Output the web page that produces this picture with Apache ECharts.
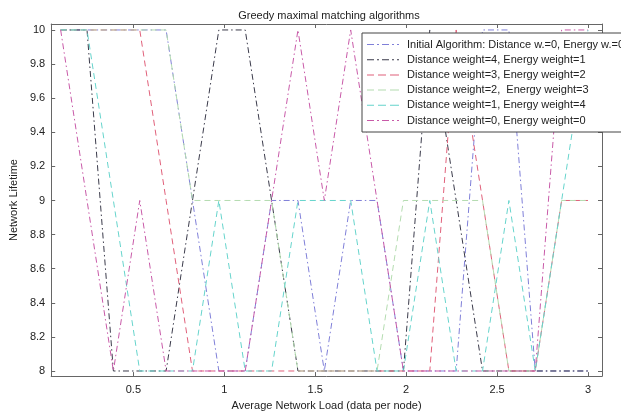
<!DOCTYPE html>
<html><head><meta charset="utf-8">
<script src="https://cdn.jsdelivr.net/npm/echarts@6/dist/echarts.min.js"></script>
<style>html,body{margin:0;padding:0;background:#fff}#c{width:621px;height:416px}</style>
</head><body><div id="c"></div>
<script>
// Network load values (x) shared by all series
const loads = [0.1,0.245,0.39,0.535,0.68,0.825,0.97,1.115,1.26,1.405,1.55,1.695,1.84,1.985,2.13,2.275,2.42,2.565,2.71,2.855,3.0];
// Network lifetime per series
const initialAlg = [10,10,10,10,10,9,8,8,9,9,8,9,9,8,8,8,10,10,8,8,8];
const dw4ew1 = [10,10,8,8,8,9,10,10,9,8,8,8,8,8,10,9,8,8,8,8,8];
const dw3ew2 = [10,10,10,10,9,8,8,8,8,8,8,8,8,8,8,10,9,8,8,9,9];
const dw2ew3 = [10,10,10,10,10,9,9,9,9,8,8,8,8,9,9,9,9,8,8,9,9];
const dw1ew4 = [10,10,9,8,8,8,9,8,8,9,9,9,8,8,9,8,8,9,8,9,10];
const dw0ew0 = [10,9,8,9,8,8,8,8,9,10,9,10,9,8,8,8,8,8,8,10,10];
const seriesNames = ['Initial Algorithm: Distance w.=0, Energy w.=0','Distance weight=4, Energy weight=1','Distance weight=3, Energy weight=2','Distance weight=2,  Energy weight=3','Distance weight=1, Energy weight=4','Distance weight=0, Energy weight=0'];
const xTicks = [0.5,1,1.5,2,2.5,3];
const yTicks = [8,8.2,8.4,8.6,8.8,9,9.2,9.4,9.6,9.8,10];

const allData = [initialAlg, dw4ew1, dw3ew2, dw2ew3, dw1ew4, dw0ew0];
const colors = ['#7f7fd8','#3a3a4a','#e0607a','#b4dcb0','#66d4cc','#c85aa8'];
const DD = [6,3,1.5,3], DS = [6,4];
const dashes = [DD, DD, DS, DS, DS, DD];
const iconDD = 'path://M0 0h7v1h-7zM10 0h2v1h-2zM15 0h7v1h-7zM25 0h2v1h-2zM30 0h2v1h-2z';
const iconDS = 'path://M0 0h7v1h-7zM11 0h8v1h-8zM23 0h9v1h-9z';
const icons = [iconDD, iconDD, iconDS, iconDS, iconDS, iconDD];

const chart = echarts.init(document.getElementById('c'), null, {renderer:'canvas'});
const font = 'Liberation Sans, Arial, sans-serif';
const axisCommon = {
  type:'value', axisLine:{show:true, onZero:false, lineStyle:{color:'#666', width:1}},
  axisTick:{show:true, inside:true, length:4, lineStyle:{color:'#666'}},
  splitLine:{show:false}
};
chart.setOption({
  animation:false,
  textStyle:{fontFamily:font},
  title:{text:'Greedy maximal matching algorithms', left:324, textAlign:'center', top:5,
    textStyle:{fontSize:11, fontWeight:'normal', color:'#222', fontFamily:font}},
  grid:{left:46, right:19, top:24, bottom:33},
  legend:{orient:'vertical', left:362, top:33, padding:[6,4,6,5], itemWidth:32, itemHeight:1.2, itemGap:4.2,
    backgroundColor:'#fff', borderColor:'#444', borderWidth:1,
    textStyle:{fontSize:11, color:'#222', fontFamily:font, padding:[0,0,0,3]},
    data:seriesNames.map((n,i)=>({name:n, icon:icons[i]}))},
  xAxis:[
    Object.assign({}, axisCommon, {min:0.048, max:3.077, position:'bottom',
      name:'Average Network Load (data per node)', nameLocation:'middle', nameGap:21,
      nameTextStyle:{fontSize:11, color:'#222', fontFamily:font},
      axisTick:Object.assign({}, axisCommon.axisTick, {customValues:xTicks}),
      axisLabel:{customValues:xTicks, fontSize:11, color:'#222', margin:8, formatter:v=>String(+(+v).toFixed(2))}}),
    Object.assign({}, axisCommon, {min:0.048, max:3.077, position:'top',
      axisTick:Object.assign({}, axisCommon.axisTick, {customValues:xTicks}),
      axisLabel:{show:false}})
  ],
  yAxis:[
    Object.assign({}, axisCommon, {min:7.97, max:10.035, position:'left',
      name:'Network Lifetime', nameLocation:'middle', nameGap:29, nameRotate:90,
      nameTextStyle:{fontSize:11, color:'#222', fontFamily:font},
      axisTick:Object.assign({}, axisCommon.axisTick, {customValues:yTicks}),
      axisLabel:{customValues:yTicks, fontSize:11, color:'#222', margin:6, formatter:v=>String(+(+v).toFixed(1))}}),
    Object.assign({}, axisCommon, {min:7.97, max:10.035, position:'right',
      axisTick:Object.assign({}, axisCommon.axisTick, {customValues:yTicks}),
      axisLabel:{show:false}})
  ],
  series: allData.map((vals,i)=>({
    name:seriesNames[i], type:'line', symbol:'none', showSymbol:false,
    data: loads.map((x,j)=>[x, vals[j]]),
    lineStyle:{color:colors[i], width:1, type:dashes[i]},
    itemStyle:{color:colors[i]},
    z: 2
  }))
});
</script></body></html>
